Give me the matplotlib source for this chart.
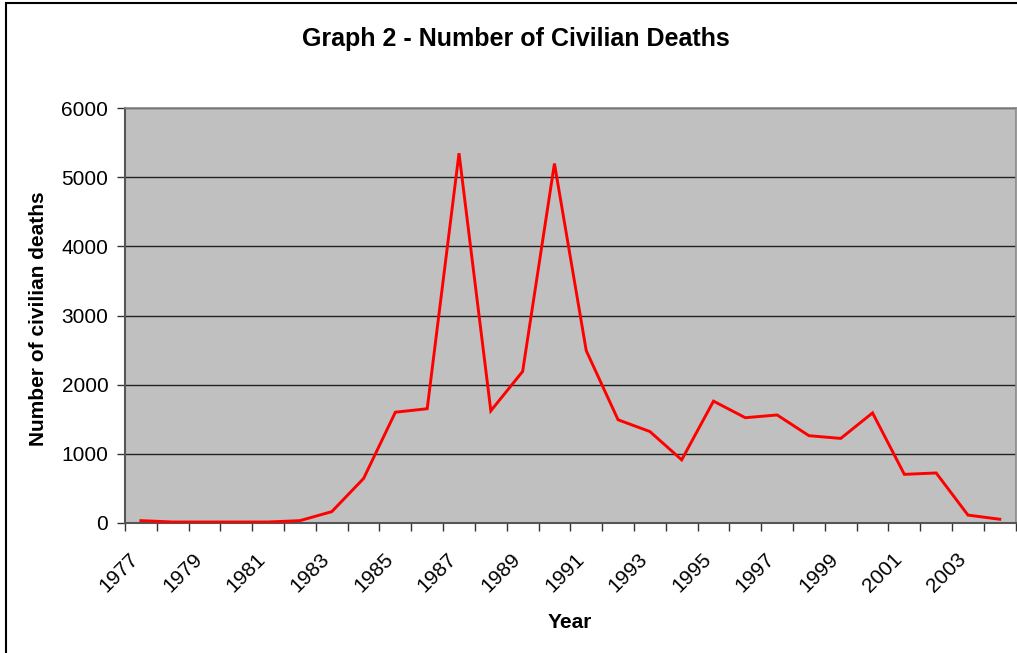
import matplotlib
matplotlib.use("Agg")
import matplotlib.pyplot as plt
import matplotlib.transforms as mtransforms
import numpy as np
from matplotlib.patches import Rectangle

years = list(range(1977, 2005))
deaths = [30, 10, 10, 10, 10, 30, 160, 640, 1600, 1650, 5350, 1620, 2190, 5200,
          2490, 1490, 1320, 910, 1760, 1520, 1560, 1260, 1220, 1590, 700, 720, 110, 50]
title = "Graph 2 - Number of Civilian Deaths"
xlabel = "Year"
ylabel = "Number of civilian deaths"
yticks = [0, 1000, 2000, 3000, 4000, 5000, 6000]

plt.rcParams['font.family'] = ['Liberation Sans', 'DejaVu Sans']

fig = plt.figure(figsize=(10.17, 6.53), dpi=100)
fig.patch.set_facecolor('white')
# outer frame (only top/left visible in the reference)
fig.patches.append(Rectangle((6/1017, -0.05), 1.2, 1 - 3/653 + 0.05, transform=fig.transFigure,
                             fill=False, edgecolor='black', linewidth=1.5))

ax = fig.add_axes([125/1017, 1 - 522.7/653, (1015.7 - 125)/1017, (522.7 - 108.3)/653])
ax.set_facecolor('#C0C0C0')

n = len(years)
xs = np.arange(n) + 0.5
ax.plot(xs, deaths, color='#FF0000', linewidth=2.1, solid_joinstyle='miter', zorder=3)

ax.set_xlim(0, n)
ax.set_ylim(0, 6000)
ax.set_yticks(yticks)
ax.set_yticklabels([str(v) for v in yticks], fontsize=15)
ax.yaxis.grid(True, color='#222222', linewidth=1.0)
ax.set_axisbelow(True)

ax.set_xticks(np.arange(n + 1))
ax.set_xticklabels([])
ax.set_xticks(xs[::2], minor=True)
labels = ax.set_xticklabels([str(y) for y in years[::2]], minor=True, fontsize=15,
                            rotation=45, ha='right', rotation_mode='anchor')
ax.tick_params(axis='x', which='minor', length=0, pad=12)
ax.tick_params(axis='x', which='major', length=6, width=1, color='#333333', direction='out')
ax.tick_params(axis='y', length=6, width=1, color='#333333', direction='out', pad=6)
off = mtransforms.ScaledTranslation(-12/100, -10/100, fig.dpi_scale_trans)
for lab in ax.get_xticklabels(minor=True):
    lab.set_transform(lab.get_transform() + off)

for s in ['left', 'bottom']:
    ax.spines[s].set_color('#555555')
    ax.spines[s].set_linewidth(1.5)
for s in ['top', 'right']:
    ax.spines[s].set_color('#888888')
    ax.spines[s].set_linewidth(1.2)

fig.text(516/1017, 1 - 39/653, title, ha='center', va='center', fontsize=18, fontweight='bold')
fig.text(570/1017, 1 - 622/653, xlabel, ha='center', va='center', fontsize=15, fontweight='bold')
fig.text(39/1017, 1 - 319/653, ylabel, ha='center', va='center', fontsize=15, fontweight='bold',
         rotation=90)

fig.savefig('out.png', dpi=100)
